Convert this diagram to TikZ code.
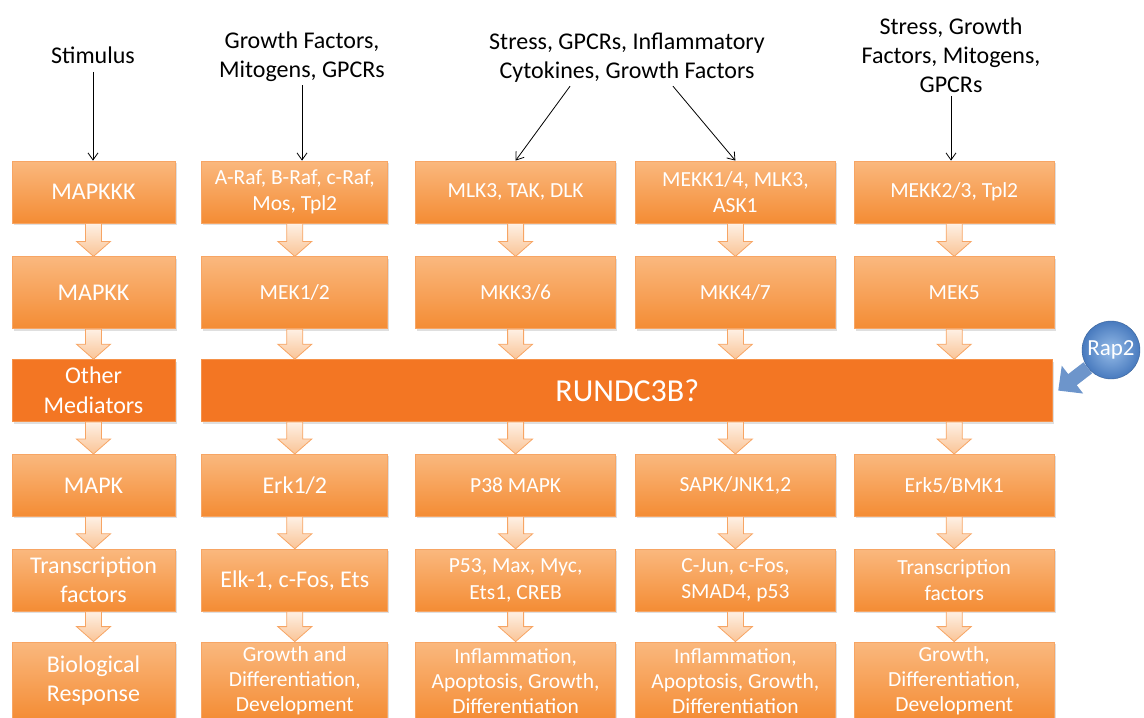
\documentclass[tikz,border=0pt]{standalone}
\usepackage{fontspec}
\setmainfont{Carlito}
\usepackage{tikz}
\usetikzlibrary{arrows.meta, positioning, shadows, calc}
\definecolor{boxtop}{RGB}{250,184,126}
\definecolor{boxbot}{RGB}{244,140,52}
\definecolor{boxline}{RGB}{247,165,100}
\definecolor{medorange}{RGB}{243,118,35}
\definecolor{peachtop}{RGB}{254,240,228}
\definecolor{peachbot}{RGB}{250,196,150}
\definecolor{rapblue}{RGB}{72,122,190}
\definecolor{raplight}{RGB}{150,188,232}
\tikzstyle{kinase} = [rectangle, top color=boxtop, bottom color=boxbot,
draw=boxline, line width=0.8pt, minimum height=62pt, inner sep=2pt,
align=center, text=white, font=\fontsize{21.5}{26.5}\selectfont,
drop shadow={opacity=0.25, shadow xshift=1.5pt, shadow yshift=-2pt}]
\tikzstyle{mediator} = [rectangle, fill=medorange, draw=boxline!60!medorange,
line width=0.8pt, minimum height=62pt, inner sep=2pt,
align=center, text=white, font=\fontsize{24}{30}\selectfont,
drop shadow={opacity=0.25, shadow xshift=1.5pt, shadow yshift=-2pt}]
\tikzstyle{big} = [font=\fontsize{24}{29}\selectfont]
\tikzstyle{response} = [minimum height=78pt, font=\fontsize{21.5}{25}\selectfont]
\tikzstyle{colone} = [minimum width=163pt]
\tikzstyle{coltwo} = [minimum width=186pt]
\tikzstyle{colwide} = [minimum width=200pt]
\tikzstyle{stimulus} = [align=center, font=\fontsize{24}{29}\selectfont]
\tikzstyle{arrow} = [-{Straight Barb[length=7pt,width=10pt]}, line width=0.8pt]
\tikzstyle{flowarrow} = [top color=peachtop, bottom color=peachbot,
draw=boxline, line width=0.8pt]
\tikzstyle{raparrow} = [line width=14pt, draw=rapblue!80!white,
-{Triangle[length=18pt,width=34pt]}]
% hollow block arrow between two boxes
\newcommand{\flowarrow}[2]{%
  \path[flowarrow] let \p1=#1, \p2=#2 in
    (\x1-8pt,\y1) -- (\x1+8pt,\y1) -- (\x1+8pt,\y2+15pt) -- (\x1+17pt,\y2+15pt)
    -- (\x1,\y2) -- (\x1-17pt,\y2+15pt) -- (\x1-8pt,\y2+15pt) -- cycle;}

\begin{document}
\begin{tikzpicture}[x=1pt, y=-1pt]
    \useasboundingbox (0,0) rectangle (1144,718);

    % stimuli
    \node (stim)   [stimulus] at (93,55)  {Stimulus};
    \node (gfm)    [stimulus] at (302,57) {Growth Factors,\\ Mitogens, GPCRs};
    \node (stress) [stimulus] at (627,58) {Stress, GPCRs, Inflammatory\\ Cytokines, Growth Factors};
    \node (sgfm)   [stimulus] at (951,55) {Stress, Growth\\ Factors, Mitogens,\\ GPCRs};

    % MAPKKK
    \node (mapkkk)  [kinase, colone, big] at (93.5,192) {MAPKKK};
    \node (raf)     [kinase, coltwo, right=26pt of mapkkk] {A-Raf, B-Raf, c-Raf,\\ Mos, Tpl2};
    \node (mlk)     [kinase, colwide, right=27pt of raf] {MLK3, TAK, DLK};
    \node (mekk)    [kinase, colwide, right=19pt of mlk] {MEKK1/4, MLK3,\\ ASK1};
    \node (mekktwo) [kinase, colwide, right=18pt of mekk] {MEKK2/3, Tpl2};

    % MAPKK
    \node (mapkk)    [kinase, colone, big, minimum height=72pt, below=33pt of mapkkk] {MAPKK};
    \node (mek)      [kinase, coltwo, minimum height=72pt, right=26pt of mapkk] {MEK1/2};
    \node (mkkthree) [kinase, colwide, minimum height=72pt, right=27pt of mek] {MKK3/6};
    \node (mkkfour)  [kinase, colwide, minimum height=72pt, right=19pt of mkkthree] {MKK4/7};
    \node (mekfive)  [kinase, colwide, minimum height=72pt, right=18pt of mkkfour] {MEK5};

    % mediators
    \node (med)   [mediator, colone, below=30pt of mapkk] {Other\\ Mediators};
    \node (rundc) [mediator, minimum width=851pt, font=\fontsize{32}{38}\selectfont,
                   right=26pt of med] {RUNDC3B?};

    % MAPK
    \node (mapk)    [kinase, colone, big, below=32pt of med] {MAPK};
    \node (erk)     [kinase, coltwo, big, right=26pt of mapk] {Erk1/2};
    \node (pthirty) [kinase, colwide, right=27pt of erk] {P38 MAPK};
    \node (sapk)    [kinase, colwide, right=19pt of pthirty] {SAPK/JNK1,2};
    \node (erkfive) [kinase, colwide, right=18pt of sapk] {Erk5/BMK1};

    % transcription factors
    \node (tf)    [kinase, colone, big, below=32pt of mapk] {Transcription\\ factors};
    \node (elk)   [kinase, coltwo, big, right=26pt of tf] {Elk-1, c-Fos, Ets};
    \node (pfifty)[kinase, colwide, right=27pt of elk] {P53, Max, Myc,\\ Ets1, CREB};
    \node (cjun)  [kinase, colwide, right=19pt of pfifty] {C-Jun, c-Fos,\\ SMAD4, p53};
    \node (tfs)   [kinase, colwide, right=18pt of cjun] {Transcription\\ factors};

    % responses
    \node (resp)     [kinase, colone, response, big, below=30pt of tf] {Biological\\ Response};
    \node (growth)   [kinase, coltwo, response, right=26pt of resp] {Growth and\\ Differentiation,\\ Development};
    \node (inflam)   [kinase, colwide, response, right=27pt of growth] {Inflammation,\\ Apoptosis, Growth,\\ Differentiation};
    \node (inflamb)  [kinase, colwide, response, right=19pt of inflam] {Inflammation,\\ Apoptosis, Growth,\\ Differentiation};
    \node (growthb)  [kinase, colwide, response, right=18pt of inflamb] {Growth,\\ Differentiation,\\ Development};

    % Rap2
    \node (rap2) [circle, minimum size=58pt, inner sep=0pt, shading=radial,
                  inner color=raplight, outer color=rapblue, draw=rapblue!80!black,
                  text=white, font=\fontsize{23}{28}\selectfont] at (1111,350) {Rap2};

    % stimulus arrows
    \draw[arrow] ([yshift=-5pt]stim.south) -- (stim |- mapkkk.north);
    \draw[arrow] (gfm.south) -- (gfm.south |- raf.north);
    \draw[arrow] ([xshift=-57pt]stress.south) -- (mlk.north);
    \draw[arrow] ([xshift=46pt]stress.south) -- (mekk.north);
    \draw[arrow] (sgfm.south) -- (sgfm.south |- mekktwo.north);

    % cascade arrows
    \foreach \a/\b in {mapkkk/mapkk, mapkk/med, med/mapk, mapk/tf, tf/resp,
        raf/mek, mlk/mkkthree, mekk/mkkfour, mekktwo/mekfive,
        erk/elk, pthirty/pfifty, sapk/cjun, erkfive/tfs,
        elk/growth, pfifty/inflam, cjun/inflamb, tfs/growthb}
        {\flowarrow{(\a.south)}{(\b.north)}}
    \foreach \c in {mek, mkkthree, mkkfour, mekfive}
        {\flowarrow{(\c.south)}{(\c.south |- rundc.north)}}
    \foreach \c in {erk, pthirty, sapk, erkfive}
        {\flowarrow{(\c.north |- rundc.south)}{(\c.north)}}

    \draw[raparrow] (rap2) -- ([xshift=5pt]rundc.east);
\end{tikzpicture}
\end{document}
